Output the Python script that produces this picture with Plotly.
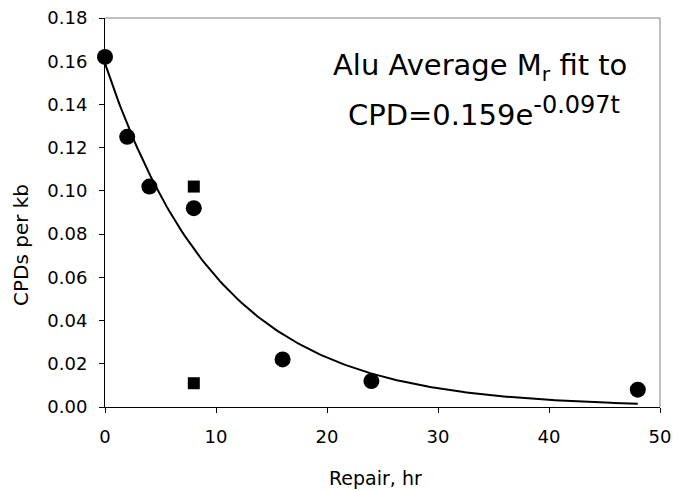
import numpy as np
import plotly.graph_objects as go

# Data
circle_x = [0, 2, 4, 8, 16, 24, 48]
circle_y = [0.162, 0.125, 0.102, 0.092, 0.022, 0.012, 0.008]
square_x = [8, 8]
square_y = [0.102, 0.011]

# Fit parameters stated on the chart: CPD = 0.159 e^(-0.097 t)
fit_a = 0.159
fit_k = 0.097
fit_t = np.linspace(0, 48, 200)
fit_y = fit_a * np.exp(-fit_k * fit_t)

x_ticks = [0, 10, 20, 30, 40, 50]
y_ticks = [0.00, 0.02, 0.04, 0.06, 0.08, 0.10, 0.12, 0.14, 0.16, 0.18]

font_family = "DejaVu Sans"

fig = go.Figure()
fig.add_trace(go.Scatter(x=fit_t, y=fit_y, mode="lines",
                         line=dict(color="black", width=2), showlegend=False))
fig.add_trace(go.Scatter(x=circle_x, y=circle_y, mode="markers",
                         marker=dict(symbol="circle", size=16, color="black"),
                         showlegend=False, cliponaxis=False))
fig.add_trace(go.Scatter(x=square_x, y=square_y, mode="markers",
                         marker=dict(symbol="square", size=12, color="black"),
                         showlegend=False, cliponaxis=False))

fig.update_layout(
    width=673, height=490,
    margin=dict(l=105, r=13, t=18, b=83),
    plot_bgcolor="white", paper_bgcolor="white",
    font=dict(family=font_family, color="black", size=18),
    xaxis=dict(range=[0, 50], tickvals=x_ticks, ticks="outside", ticklen=5,
               tickcolor="black", showline=True, linecolor="black", linewidth=1,
               showgrid=False, zeroline=False, automargin=False,
               ticklabelstandoff=8,
               tickfont=dict(size=18)),
    yaxis=dict(range=[0, 0.18], tickvals=y_ticks, tickformat=".2f",
               ticks="outside", ticklen=5, tickcolor="black",
               showline=True, linecolor="black", linewidth=1,
               showgrid=False, zeroline=False, automargin=False,
               ticklabelstandoff=8,
               tickfont=dict(size=18)),
    shapes=[
        dict(type="line", xref="paper", yref="paper", x0=0, x1=1, y0=1, y1=1,
             line=dict(color="#808080", width=1)),
        dict(type="line", xref="paper", yref="paper", x0=1, x1=1, y0=0, y1=1,
             line=dict(color="#808080", width=1)),
    ],
    annotations=[
        dict(xref="paper", yref="paper", x=(480 - 105) / 555, y=(407 - 67) / 389,
             xanchor="center", yanchor="middle", showarrow=False,
             text="Alu Average M<sub>r</sub> fit to",
             font=dict(size=29, family=font_family)),
        dict(xref="paper", yref="paper", x=(484 - 105) / 555, y=(407 - 111) / 389,
             xanchor="center", yanchor="middle", showarrow=False,
             text="CPD=0.159e<sup><span style=\"font-size:24px\">-0.097t</span></sup>",
             font=dict(size=29, family=font_family)),
        dict(xref="paper", yref="paper", x=(375 - 105) / 555, y=-(478 - 407) / 389,
             xanchor="center", yanchor="middle", showarrow=False,
             text="Repair, hr", font=dict(size=19, family=font_family)),
        dict(xref="paper", yref="paper", x=-(105 - 21) / 555, y=(407 - 245) / 389,
             xanchor="center", yanchor="middle", showarrow=False, textangle=-90,
             text="CPDs per kb", font=dict(size=20, family=font_family)),
    ],
)

fig.write_html("out.html")
